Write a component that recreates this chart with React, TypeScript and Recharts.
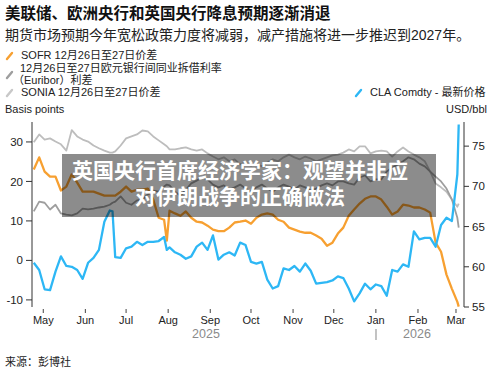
import React from "react";
import { LineChart, Line, XAxis, YAxis } from "recharts";

const dates = [
  "2025-04-24", "2025-04-28", "2025-05-02", "2025-05-06", "2025-05-10", "2025-05-14", "2025-05-18", "2025-05-22",
  "2025-05-26", "2025-05-30", "2025-06-03", "2025-06-07", "2025-06-11", "2025-06-15", "2025-06-19", "2025-06-21",
  "2025-06-23", "2025-06-27", "2025-07-01", "2025-07-05", "2025-07-09", "2025-07-13", "2025-07-17", "2025-07-21",
  "2025-07-25", "2025-07-29", "2025-07-31", "2025-08-02", "2025-08-06", "2025-08-10", "2025-08-14", "2025-08-18",
  "2025-08-22", "2025-08-26", "2025-08-30", "2025-09-03", "2025-09-07", "2025-09-11", "2025-09-15", "2025-09-19",
  "2025-09-23", "2025-09-27", "2025-10-01", "2025-10-05", "2025-10-09", "2025-10-13", "2025-10-17", "2025-10-21",
  "2025-10-25", "2025-10-29", "2025-11-02", "2025-11-06", "2025-11-10", "2025-11-14", "2025-11-18", "2025-11-22",
  "2025-11-26", "2025-11-30", "2025-12-04", "2025-12-08", "2025-12-12", "2025-12-16", "2025-12-20", "2025-12-24",
  "2025-12-28", "2026-01-01", "2026-01-05", "2026-01-09", "2026-01-13", "2026-01-17", "2026-01-21", "2026-01-25",
  "2026-01-29", "2026-02-02", "2026-02-06", "2026-02-10", "2026-02-14", "2026-02-18", "2026-02-22", "2026-02-26",
  "2026-03-02", "2026-03-03",
];

// SOFR Dec26-27 spread (bp)
const sofr = [
  23.0, 26.1, 22.5, 21.2, 21.2, 17.7, 18.7, 21.8, 19.7, 17.4, 17.4, 17.4, 16.9, 16.4, 16.4, 16.4,
  16.4, 17.4, 18.7, 17.4, 17.9, 17.9, 18.2, 15.4, 10.8, 10.3, 5.0, 12.6, 11.9, 11.3, 12.4, 10.8,
  9.8, 9.6, 8.8, 7.8, 7.4, 7.4, 8.3, 9.6, 9.8, 10.1, 9.3, 10.8, 11.6, 11.9, 11.6, 10.3,
  9.8, 8.3, 7.8, 7.3, 7.0, 7.0, 6.3, 5.5, 3.7, 4.5, 6.8, 8.3, 11.3, 12.9, 14.4, 15.6,
  16.2, 16.2, 15.4, 13.6, 11.6, 12.4, 14.1, 13.9, 13.4, 13.4, 12.9, 12.1, 4.5, 2.2, -3.6, -7.2,
  -10.5, -11.7,
];

// Euribor Dec26-27 spread (bp)
const euribor = [
  12.4, 14.9, 14.6, 12.9, 14.1, 11.9, 11.6, 11.4, 11.9, 13.1, 12.9, 13.1, 13.4, 13.6, 14.1, 14.6,
  14.9, 16.2, 14.6, 14.1, 15.2, 15.4, 16.7, 17.7, 17.4, 18.7, 19.2, 19.0, 17.4, 16.4, 17.9, 19.5,
  20.2, 21.0, 20.5, 19.2, 18.5, 19.0, 17.9, 18.5, 19.2, 18.2, 17.4, 18.5, 19.2, 18.2, 17.4, 18.5,
  19.2, 18.7, 17.9, 19.0, 18.5, 17.7, 18.2, 19.0, 19.5, 19.0, 20.0, 20.0, 19.5, 19.2, 21.0, 21.5,
  20.0, 20.5, 20.5, 22.5, 23.5, 24.3, 25.1, 26.1, 25.6, 24.5, 23.8, 22.5, 21.2, 20.0, 18.2, 15.4,
  10.8, 8.3,
];

// SONIA Dec26-27 spread (bp)
const sonia = [
  29.9, 31.9, 30.6, 30.9, 30.1, 29.4, 27.8, 33.0, 31.4, 30.6, 30.1, 29.1, 28.4, 27.8, 27.3, 27.3,
  27.6, 29.1, 30.9, 31.4, 31.9, 32.9, 32.7, 31.4, 30.4, 29.4, 28.9, 28.1, 28.1, 28.4, 28.6, 28.1,
  27.8, 28.1, 27.1, 26.3, 25.6, 26.1, 25.1, 25.6, 24.3, 24.8, 24.0, 24.5, 23.8, 24.8, 25.6, 25.1,
  26.1, 26.8, 26.1, 25.6, 26.3, 25.8, 25.1, 25.6, 26.1, 26.6, 26.8, 27.3, 28.1, 27.6, 28.9, 28.9,
  27.1, 27.6, 27.8, 27.6, 26.3, 27.6, 28.6, 27.6, 26.8, 26.1, 25.1, 22.5, 19.5, 18.5, 17.4, 15.4,
  13.6, 14.4,
];

// CLA Comdty last price (USD/bbl)
const cla = [
  60.5, 59.6, 57.2, 57.1, 59.4, 61.3, 60.1, 60.0, 59.6, 58.5, 60.5, 61.1, 62.1, 65.6, 67.0, 66.9,
  61.2, 61.1, 62.3, 62.5, 63.1, 62.7, 63.1, 63.1, 63.2, 63.7, 62.1, 62.4, 61.8, 61.5, 61.0, 61.3,
  62.5, 63.0, 62.1, 63.9, 60.9, 61.5, 61.8, 61.4, 63.0, 62.7, 60.6, 60.4, 60.6, 58.4, 57.3, 57.6,
  59.8, 59.6, 60.1, 59.4, 60.4, 59.5, 57.9, 58.0, 58.1, 58.3, 58.8, 58.6, 57.3, 55.7, 56.7, 57.9,
  57.2, 57.8, 57.6, 56.4, 59.6, 59.4, 60.3, 60.0, 64.4, 63.4, 63.6, 63.6, 62.5, 65.2, 66.1, 65.7,
  71.5, 77.7,
];

const monthLabels = ["May", "Jun", "Jul", "Aug", "Sep", "Oct", "Nov", "Dec", "Jan", "Feb", "Mar"];
const monthDates = [
  "2025-05-01", "2025-06-01", "2025-07-01", "2025-08-01", "2025-09-01", "2025-10-01",
  "2025-11-01", "2025-12-01", "2026-01-01", "2026-02-01", "2026-03-01",
];
const leftTicks = [-10, 0, 10, 20, 30];
const rightTicks = [55, 60, 65, 70, 75];

const DAY = 86400000;
const t0 = Date.parse(dates[0]);
const toDay = (s: string) => (Date.parse(s) - t0) / DAY;

const data = dates.map((d, i) => ({
  day: toDay(d),
  sofr: sofr[i],
  euribor: euribor[i],
  sonia: sonia[i],
  cla: cla[i],
}));
const monthTickDays = monthDates.map(toDay);

const LATIN = '"Liberation Sans", Arial, "Noto Sans CJK SC", sans-serif';
const CJK = '"Liberation Sans", "Noto Sans CJK SC", sans-serif';

const XTick = (props: any) => {
  const { x, y, payload } = props;
  const idx = monthTickDays.indexOf(payload.value);
  return (
    <g>
      <line x1={x} x2={x} y1={y + 2} y2={y + 6} stroke="#444" strokeWidth={1} />
      <text x={x} y={y + 17} textAnchor="middle" fontSize={11} fontFamily={LATIN} fill="#222">
        {idx >= 0 ? monthLabels[idx] : ""}
      </text>
    </g>
  );
};

const LegendIcon = ({ x, y, color }: { x: number; y: number; color: string }) => (
  <line x1={x} y1={y + 6} x2={x + 5} y2={y} stroke={color} strokeWidth={2.4} strokeLinecap="round" />
);

export default function App() {
  return (
    <div style={{ position: "fixed", left: 0, top: 0, width: 500, height: 372, background: "#fff", overflow: "hidden" }}>
      <div style={{ position: "absolute", left: 0, top: 0 }}>
        <LineChart width={500} height={372} data={data} margin={{ top: 122, right: 0, bottom: 35, left: 4 }}>
          <XAxis
            dataKey="day"
            type="number"
            domain={[-1.3, 316.9]}
            allowDataOverflow
            ticks={monthTickDays}
            tick={<XTick />}
            tickLine={false}
            tickSize={0}
            tickMargin={0}
            axisLine={false}
            height={30}
            interval={0}
          />
          <YAxis
            yAxisId="left"
            domain={[-11.8, 35.05]}
            allowDataOverflow
            ticks={leftTicks}
            width={28}
            tickSize={6}
            tickMargin={3}
            axisLine={{ stroke: "#333" }}
            tickLine={{ stroke: "#333" }}
            tick={{ fontSize: 11.5, fill: "#222", fontFamily: LATIN }}
            interval={0}
          />
          <YAxis
            yAxisId="right"
            orientation="right"
            domain={[55, 78]}
            allowDataOverflow
            ticks={rightTicks}
            width={36}
            tickSize={5}
            tickMargin={3}
            axisLine={{ stroke: "#333" }}
            tickLine={{ stroke: "#333" }}
            tick={{ fontSize: 11.5, fill: "#222", fontFamily: LATIN }}
            interval={0}
          />
          <Line yAxisId="left" dataKey="sonia" stroke="#bdbdbd" strokeWidth={1.8} dot={false} isAnimationActive={false} strokeLinejoin="round" />
          <Line yAxisId="left" dataKey="euribor" stroke="#9e9e9e" strokeWidth={1.8} dot={false} isAnimationActive={false} strokeLinejoin="round" />
          <Line yAxisId="left" dataKey="sofr" stroke="#f7a031" strokeWidth={2.3} dot={false} isAnimationActive={false} strokeLinejoin="round" />
          <Line yAxisId="right" dataKey="cla" stroke="#2db7f5" strokeWidth={2.3} dot={false} isAnimationActive={false} strokeLinejoin="round" />
        </LineChart>
      </div>
      <svg width={500} height={372} style={{ position: "absolute", left: 0, top: 0, pointerEvents: "none" }}>
        <text x={5} y={19} fontSize={15.5} fontWeight={700} fontFamily={CJK} fill="#111">
          美联储、欧洲央行和英国央行降息预期逐渐消退
        </text>
        <text x={5} y={40} fontSize={14} fontFamily={CJK} fill="#222">
          期货市场预期今年宽松政策力度将减弱，减产措施将进一步推迟到2027年。
        </text>
        <LegendIcon x={7} y={53} color="#f7a031" />
        <text x={21} y={59} fontSize={11} fontFamily={CJK} fill="#222">SOFR 12月26日至27日价差</text>
        <LegendIcon x={7} y={72} color="#9e9e9e" />
        <text x={20} y={72} fontSize={11} fontFamily={CJK} fill="#222">12月26日至27日欧元银行间同业拆借利率</text>
        <text x={13} y={84} fontSize={11} fontFamily={CJK} fill="#222">（Euribor）利差</text>
        <LegendIcon x={7} y={90} color="#c8c8c8" />
        <text x={21} y={96} fontSize={11} fontFamily={CJK} fill="#222">SONIA 12月26日至27日价差</text>
        <LegendIcon x={356} y={90} color="#2db7f5" />
        <text x={370} y={96} fontSize={11} fontFamily={CJK} fill="#222">CLA Comdty - 最新价格</text>
        <text x={5} y={113} fontSize={11} fontFamily={LATIN} fill="#222">Basis points</text>
        <text x={487} y={113} textAnchor="end" fontSize={11} fontFamily={LATIN} fill="#222">USD/bbl</text>
        <text x={206} y={338} textAnchor="middle" fontSize={12.5} fontFamily={LATIN} fill="#8a8a8a">2025</text>
        <line x1={376} x2={376} y1={329} y2={340} stroke="#9a9a9a" strokeWidth={1.2} />
        <text x={417} y={338} textAnchor="middle" fontSize={12.5} fontFamily={LATIN} fill="#8a8a8a">2026</text>
        <text x={5} y={366} fontSize={11} fontFamily={CJK} fill="#222">来源：彭博社</text>
        <rect x={62} y={154} width={374} height={63} fill="rgba(0,0,0,0.45)" />
        <text x={240} y={178} textAnchor="middle" fontSize={21} fontWeight={700} fontFamily={CJK} fill="#fff">
          英国央行首席经济学家：观望并非应
        </text>
        <text x={240} y={204} textAnchor="middle" fontSize={21} fontWeight={700} fontFamily={CJK} fill="#fff">
          对伊朗战争的正确做法
        </text>
      </svg>
    </div>
  );
}
